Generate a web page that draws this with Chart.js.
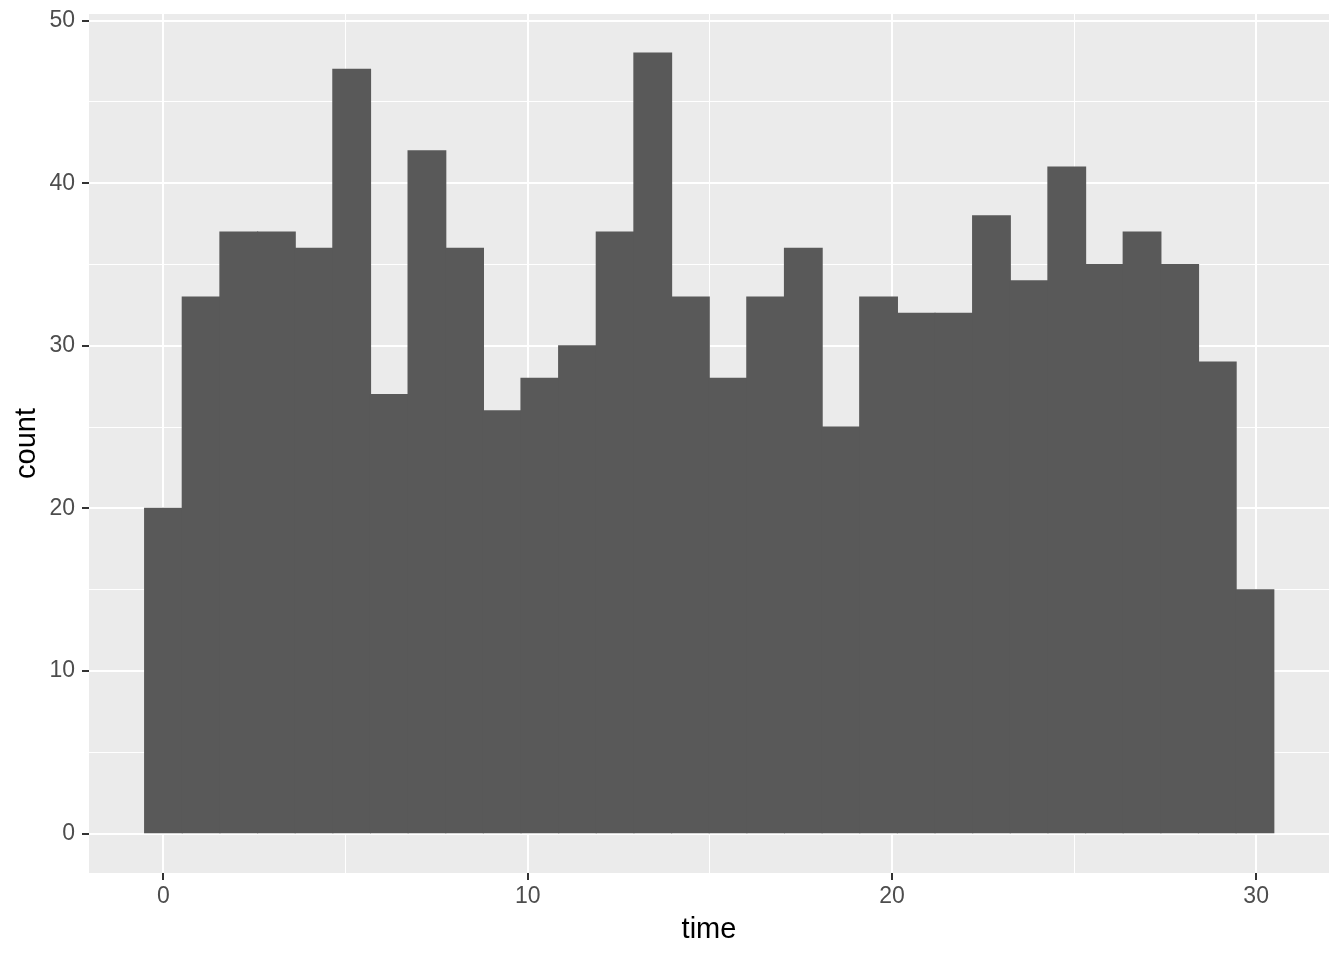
<!DOCTYPE html>
<html>
<head>
<meta charset="utf-8">
<script src="https://cdn.jsdelivr.net/npm/chart.js@4/dist/chart.umd.min.js"></script>
<style>
  html, body { margin: 0; padding: 0; background: #ffffff; }
  canvas { display: block; }
</style>
</head>
<body>
<canvas id="c" width="1344" height="960"></canvas>
<script>
// Histogram bins (centers) and counts
const binCenters = [0, 1.033, 2.067, 3.1, 4.133, 5.167, 6.2, 7.233, 8.267, 9.3,
  10.333, 11.367, 12.4, 13.433, 14.467, 15.5, 16.533, 17.567, 18.6, 19.633,
  20.667, 21.7, 22.733, 23.767, 24.8, 25.833, 26.867, 27.9, 28.933, 29.967];
const counts = [20, 33, 37, 37, 36, 47, 27, 42, 36, 26,
  28, 30, 37, 48, 33, 28, 33, 36, 25, 33,
  32, 32, 38, 34, 41, 35, 37, 35, 29, 15];
const xMajorTicks = [0, 10, 20, 30];
const xMinorTicks = [5, 15, 25];
const yMajorTicks = [0, 10, 20, 30, 40, 50];
const yMinorTicks = [5, 15, 25, 35, 45];

const FONT = "'Liberation Sans', Arial, sans-serif";

const panelBg = {
  id: 'panelBg',
  beforeDraw(chart) {
    const { ctx, chartArea: a } = chart;
    ctx.save();
    ctx.fillStyle = '#ffffff';
    ctx.fillRect(0, 0, chart.width, chart.height);
    ctx.fillStyle = '#EBEBEB';
    ctx.fillRect(a.left, a.top, a.right - a.left, a.bottom - a.top);
    ctx.restore();
  }
};

function tickList(major, minor) {
  return major.concat(minor).sort((a, b) => a - b).map(v => ({ value: v }));
}
function isMajor(list, v) { return list.indexOf(v) !== -1; }

new Chart(document.getElementById('c'), {
  type: 'bar',
  data: {
    datasets: [{
      data: binCenters.map((c, i) => ({ x: c, y: counts[i] })),
      backgroundColor: '#595959',
      borderWidth: 0,
      inflateAmount: 0.6,
      barPercentage: 1,
      categoryPercentage: 1
    }]
  },
  options: {
    responsive: false,
    animation: false,
    layout: { padding: { left: 0, top: 14, right: 15, bottom: 0 } },
    plugins: { legend: { display: false }, tooltip: { enabled: false } },
    scales: {
      x: {
        type: 'linear',
        offset: false,
        min: -2.045,
        max: 32.0,
        afterBuildTicks(scale) { scale.ticks = tickList(xMajorTicks, xMinorTicks); },
        afterFit(scale) { scale.height = 87; scale.paddingLeft = 0; scale.paddingRight = 0; },
        border: { display: false },
        grid: {
          offset: false,
          drawTicks: true,
          tickLength: 7,
          color: '#ffffff',
          lineWidth: ctx => isMajor(xMajorTicks, ctx.tick && ctx.tick.value) ? 2 : 1,
          tickColor: ctx => isMajor(xMajorTicks, ctx.tick && ctx.tick.value) ? '#333333' : 'rgba(0,0,0,0)',
          tickWidth: 2
        },
        ticks: {
          padding: 3,
          color: '#4D4D4D',
          font: { family: FONT, size: 23, lineHeight: 1.2 },
          maxRotation: 0,
          autoSkip: false,
          callback: v => isMajor(xMajorTicks, v) ? String(v) : ''
        },
        title: {
          display: true,
          text: 'time',
          color: '#000000',
          font: { family: FONT, size: 29, lineHeight: 1 },
          padding: { top: 0, bottom: 15.5 }
        }
      },
      y: {
        type: 'linear',
        min: -2.42,
        max: 50.41,
        afterBuildTicks(scale) { scale.ticks = tickList(yMajorTicks, yMinorTicks); },
        afterFit(scale) { scale.width = 89; scale.paddingTop = 0; scale.paddingBottom = 0; },
        border: { display: false },
        grid: {
          drawTicks: true,
          tickLength: 7,
          color: '#ffffff',
          lineWidth: ctx => isMajor(yMajorTicks, ctx.tick && ctx.tick.value) ? 2 : 1,
          tickColor: ctx => isMajor(yMajorTicks, ctx.tick && ctx.tick.value) ? '#333333' : 'rgba(0,0,0,0)',
          tickWidth: 2
        },
        ticks: {
          padding: 7,
          color: '#4D4D4D',
          font: { family: FONT, size: 23, lineHeight: 1.2 },
          autoSkip: false,
          callback: v => isMajor(yMajorTicks, v) ? String(v) : ''
        },
        title: {
          display: true,
          text: 'count',
          color: '#000000',
          font: { family: FONT, size: 29, lineHeight: 1 },
          padding: { top: 12.2, bottom: 0 }
        }
      }
    }
  },
  plugins: [panelBg]
});
</script>
</body>
</html>
